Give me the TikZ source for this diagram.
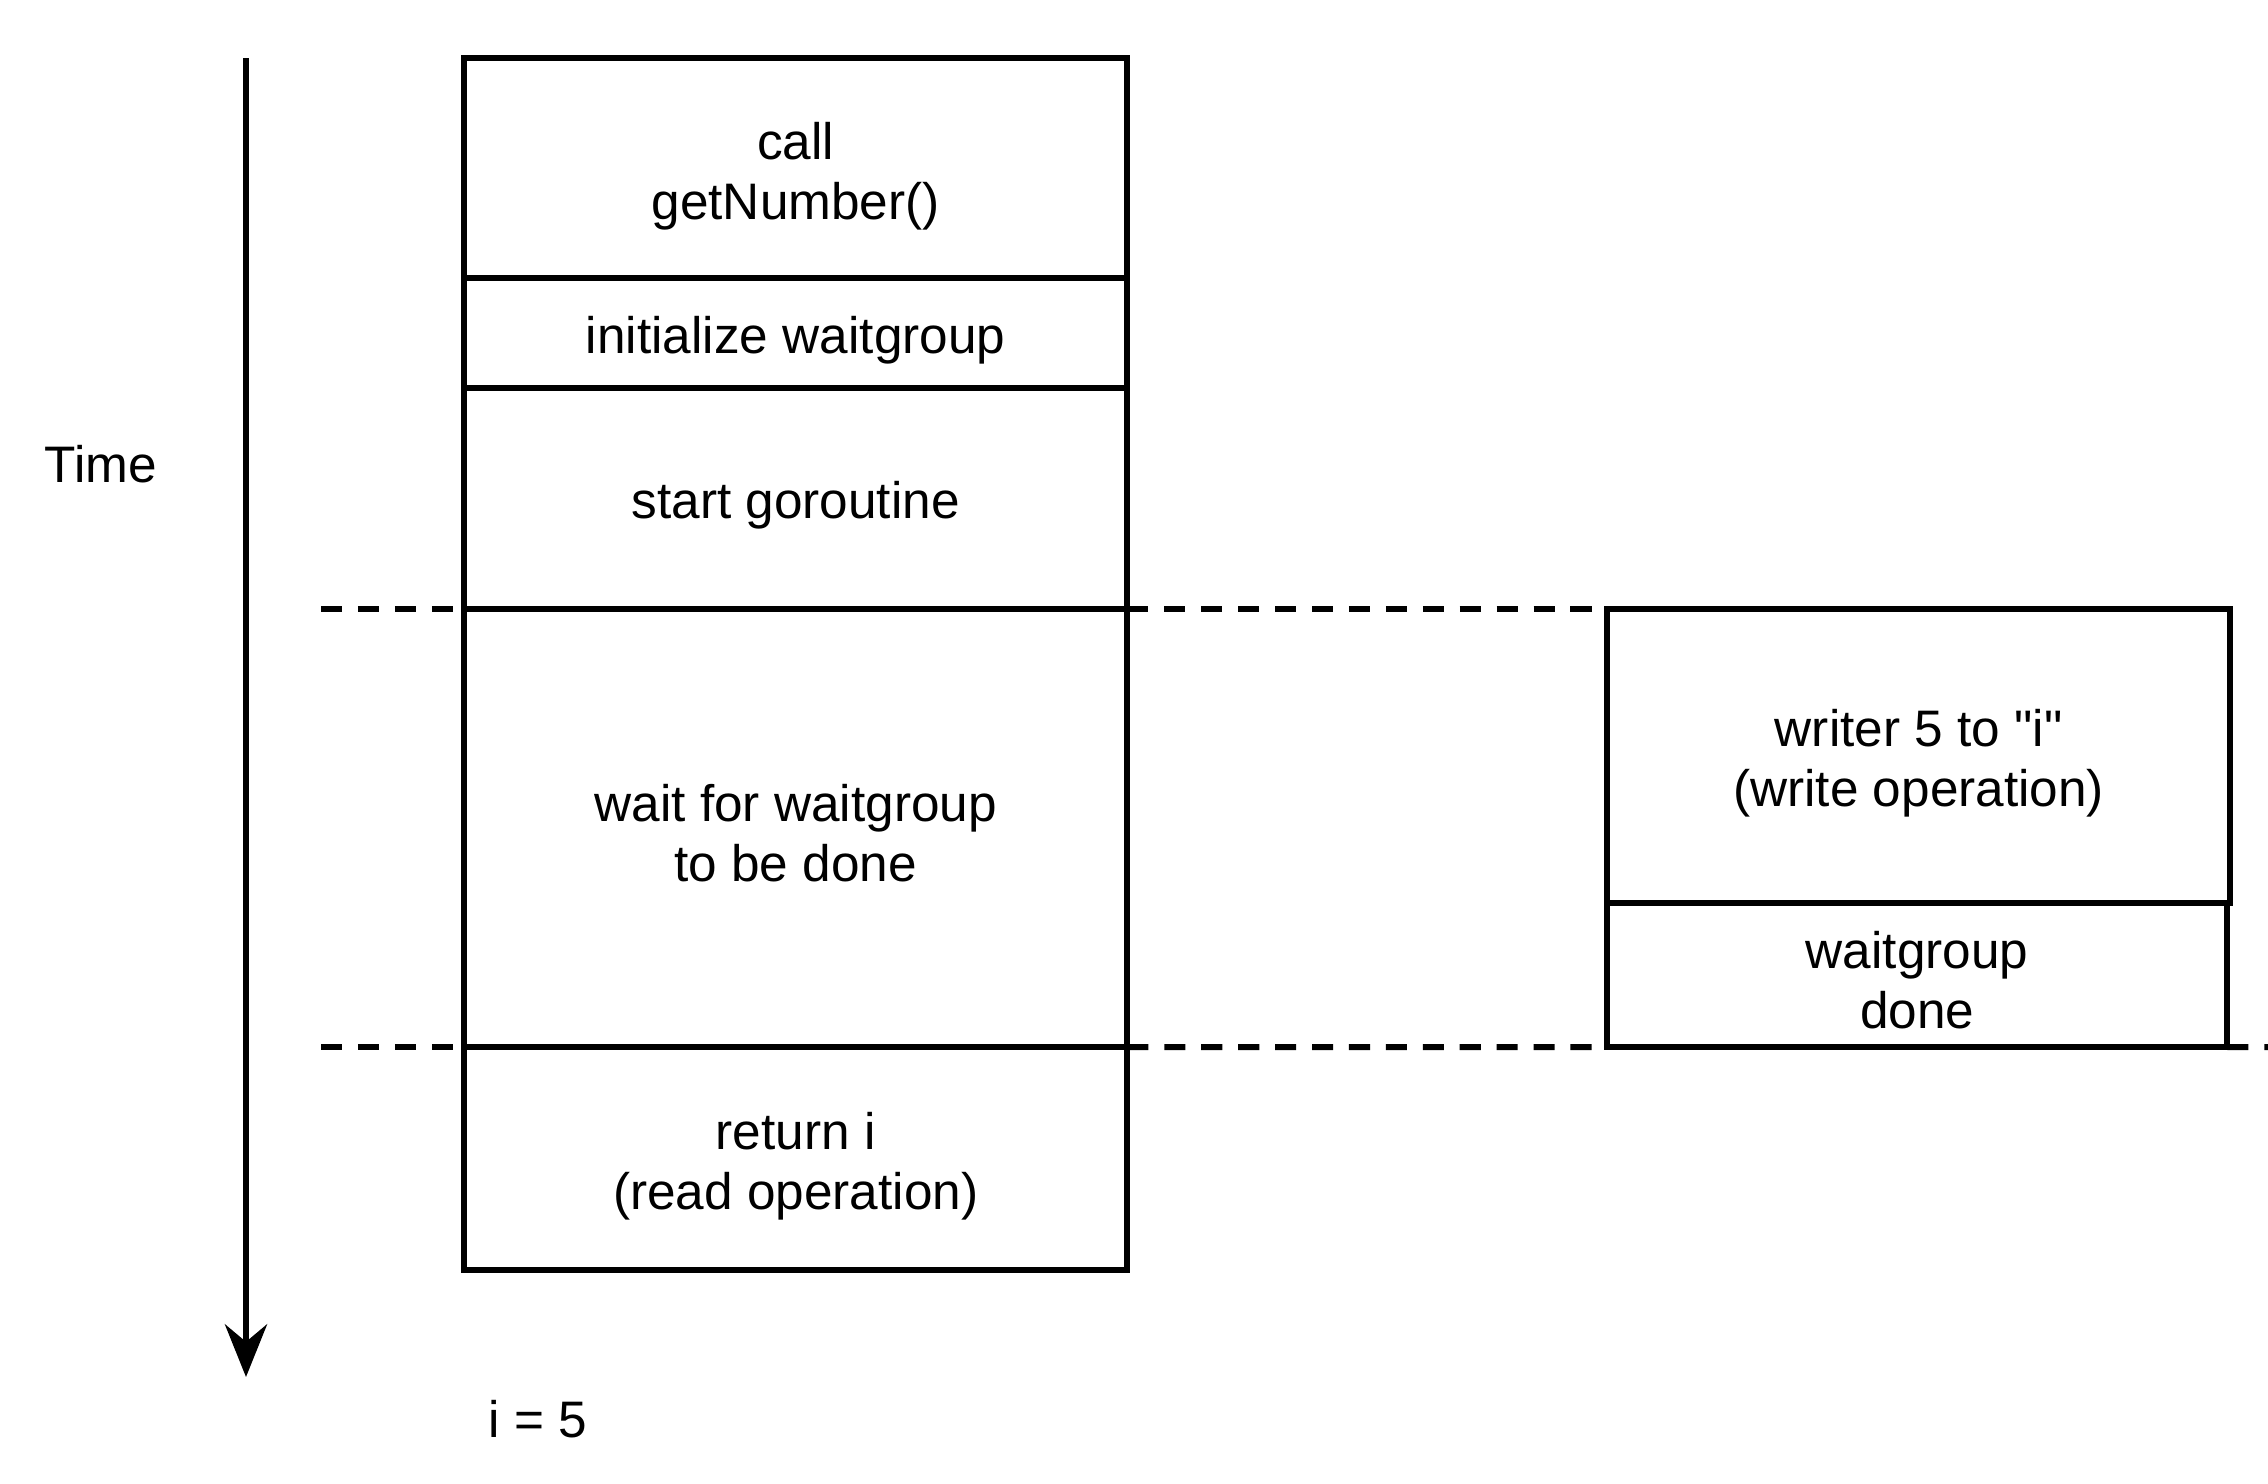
\documentclass[tikz,border=0pt]{standalone}
\usepackage{fontspec}
\setmainfont{Liberation Sans}[Ligatures=TeXOff]
\usetikzlibrary{arrows.meta}
\begin{document}
\begin{tikzpicture}[x=0.01cm,y=-0.01cm,
  lw/.style={line width=1.7pt},
  box/.style={lw,draw,rectangle,anchor=north west,inner sep=0pt,outer sep=0pt},
  txt/.style={align=center,inner sep=0pt,font=\fontsize{14.6pt}{17pt}\selectfont},
  sep/.style={lw,dash pattern=on 6pt off 4.5pt},
  lbl/.style={font=\fontsize{14.6pt}{17pt}\selectfont,inner sep=0pt}]
\useasboundingbox[fill=white] (0,0) rectangle (2268,1484);
% time axis
\coordinate (ttop) at (246,58);
\coordinate (tbot) at (246,1377);
\draw[line width=1.5pt,-{Stealth[length=15pt,width=12pt,inset=5pt]}] (ttop) -- (tbot);
\node[lbl] (time) at (101,464) {Time};
\node[lbl] (ival) at (538,1419) {i = 5};
% main goroutine column
\node[box,minimum width=6.63cm,minimum height=2.20cm] (call) at (464,58) {};
\node[box,minimum width=6.63cm,minimum height=1.10cm] (init) at (464,278) {};
\node[box,minimum width=6.63cm,minimum height=2.21cm] (start) at (464,388) {};
\node[box,minimum width=6.63cm,minimum height=4.38cm] (wait) at (464,609) {};
\node[box,minimum width=6.63cm,minimum height=2.23cm] (ret) at (464,1047) {};
% goroutine column
\node[box,minimum width=6.23cm,minimum height=2.94cm] (write) at (1607,609) {};
\node[box,minimum width=6.20cm,minimum height=1.44cm] (done) at (1607,903) {};
% texts
\node[txt] (callt) at ([yshift=-0.08cm]call.center) {call\\getNumber()};
\node[txt] (initt) at ([yshift=-0.07cm]init.center) {initialize waitgroup};
\node[txt] (startt) at ([yshift=-0.07cm]start.center) {start goroutine};
\node[txt] (waitt) at ([yshift=-0.05cm]wait.center) {wait for waitgroup\\to be done};
\node[txt] (rett) at ([yshift=-0.08cm]ret.center) {return i\\(read operation)};
\node[txt] (writet) at ([yshift=-0.07cm]write.center) {writer 5 to "i"\\(write operation)};
\node[txt] (donet) at ([yshift=-0.05cm]done.center) {waitgroup\\done};
% dashed sync lines
\coordinate (d1) at (321,609);
\coordinate (d2) at (321,1047);
\coordinate (d3) at (2268,1047);
\draw[sep] (d1) -- (wait.north west);
\draw[sep] (wait.north east) -- (write.north west);
\draw[sep] (d2) -- (ret.north west);
\draw[sep] (ret.north east) -- (done.south west);
\draw[sep] (done.south east) -- (d3);
\end{tikzpicture}
\end{document}
